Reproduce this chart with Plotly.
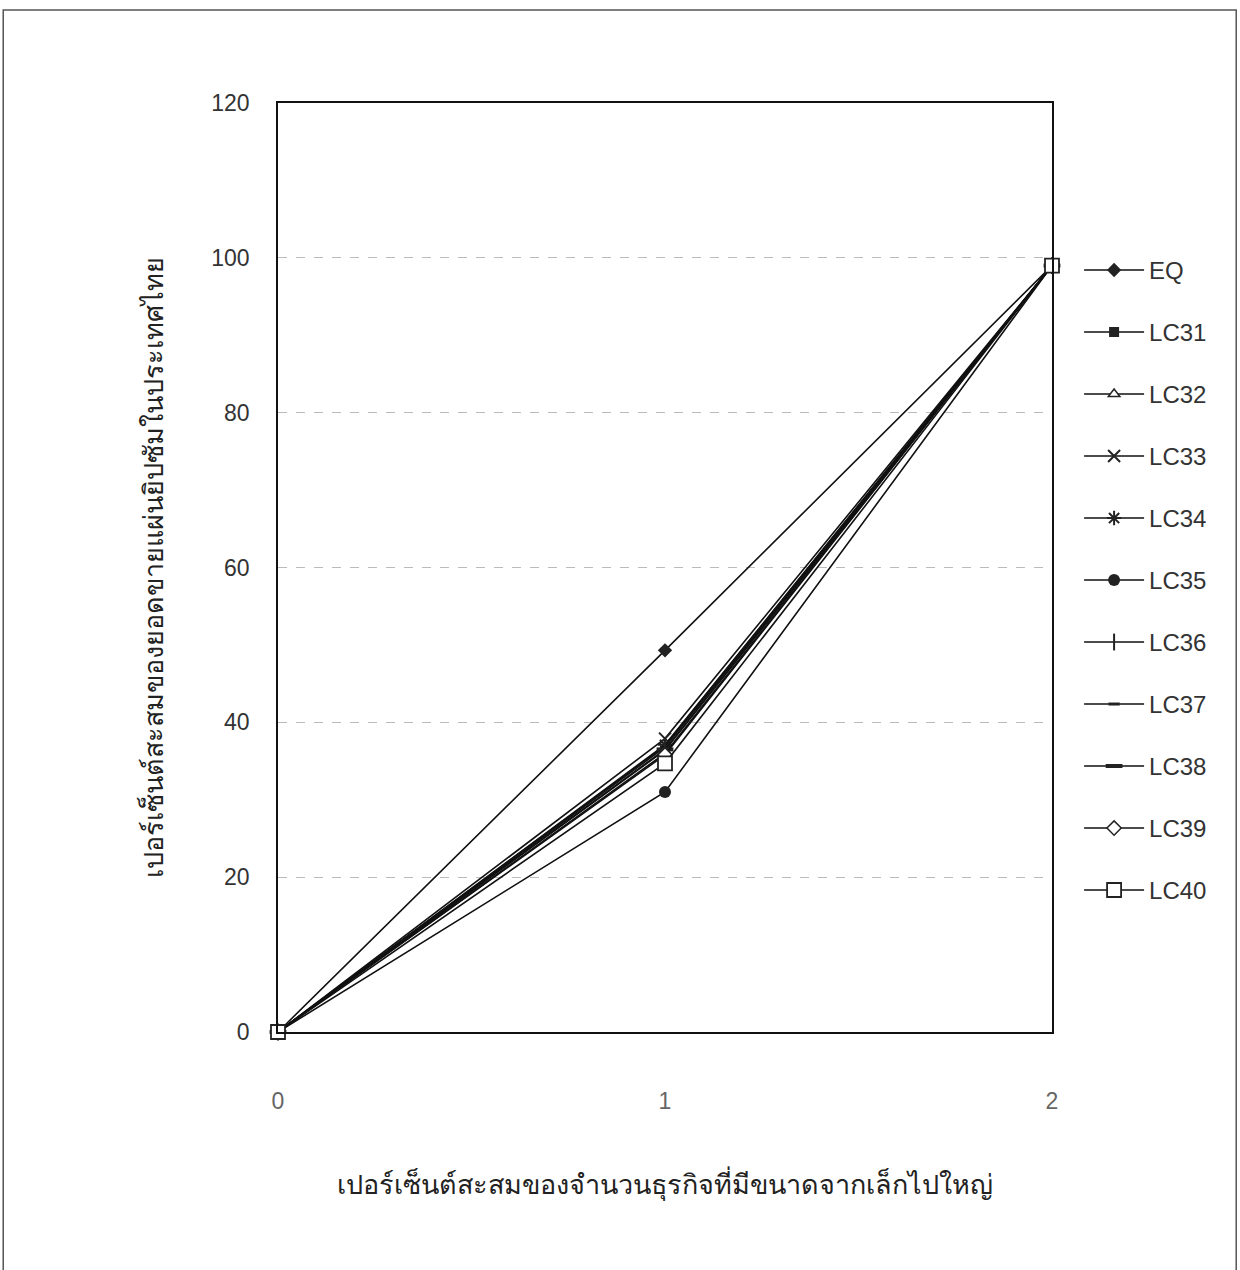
import plotly.graph_objects as go

x_vals = [0, 1, 2]
series_names = ["EQ", "LC31", "LC32", "LC33", "LC34", "LC35", "LC36", "LC37", "LC38", "LC39", "LC40"]
series_values = {
    "EQ":   [0, 49.3, 99],
    "LC31": [0, 36.4, 99],
    "LC32": [0, 36.8, 99],
    "LC33": [0, 37.9, 99],
    "LC34": [0, 37.1, 99],
    "LC35": [0, 31.0, 99],
    "LC36": [0, 37.0, 99],
    "LC37": [0, 36.0, 99],
    "LC38": [0, 36.5, 99],
    "LC39": [0, 35.8, 99],
    "LC40": [0, 34.7, 99],
}
x_tick_labels = ["0", "1", "2"]
y_tick_values = [0, 20, 40, 60, 80, 100, 120]

marker_styles = {
    "EQ":   dict(symbol="diamond", size=11, color="#222"),
    "LC31": dict(symbol="square", size=10, color="#222"),
    "LC32": dict(symbol="triangle-up", size=10, color="white", line=dict(width=1.5, color="#222")),
    "LC33": dict(symbol="x-thin-open", size=12, color="#222", line=dict(width=2, color="#222")),
    "LC34": dict(symbol="asterisk-open", size=12, color="#222", line=dict(width=2, color="#222")),
    "LC35": dict(symbol="circle", size=12, color="#222"),
    "LC36": dict(symbol="line-ns-open", size=12, color="#222", line=dict(width=2, color="#222")),
    "LC37": dict(symbol="line-ew-open", size=8, color="#222", line=dict(width=3, color="#222")),
    "LC38": dict(symbol="line-ew-open", size=12, color="#222", line=dict(width=4, color="#222")),
    "LC39": dict(symbol="diamond", size=11, color="white", line=dict(width=1.5, color="#222")),
    "LC40": dict(symbol="square", size=14, color="white", line=dict(width=1.8, color="#222")),
}

fig = go.Figure()
for name in series_names:
    fig.add_trace(go.Scatter(
        x=x_vals, y=series_values[name], name=name, mode="lines+markers",
        line=dict(color="#111", width=1.6),
        marker=marker_styles[name],
        legendgroup=name,
        cliponaxis=False,
    ))

fig.update_layout(
    width=1240, height=1270,
    paper_bgcolor="white", plot_bgcolor="white",
    margin=dict(l=278, r=188, t=103, b=238),
    font=dict(family="Liberation Sans, Noto Sans, sans-serif", size=22, color="#333"),
    legend=dict(x=1.035, y=0.844, xanchor="left", yanchor="top",
                font=dict(size=24, color="#333"), tracegroupgap=27.8,
                itemwidth=60, bgcolor="rgba(0,0,0,0)"),
    xaxis=dict(range=[0, 2], tickvals=x_vals, ticktext=x_tick_labels,
               showgrid=False, zeroline=False, showline=True, linecolor="#111",
               linewidth=1.5, mirror=True, ticks="", ticklabelstandoff=48,
               tickfont=dict(size=23, color="#666"),
               title=dict(text="เปอร์เซ็นต์สะสมของจำนวนธุรกิจที่มีขนาดจากเล็กไปใหญ่",
                          font=dict(size=27, color="#222"), standoff=62)),
    yaxis=dict(range=[0, 120], tickvals=y_tick_values,
               showgrid=True, gridcolor="#bbb", griddash="dash", gridwidth=1,
               zeroline=False, showline=True, linecolor="#111",
               linewidth=1.5, mirror=True, ticks="", ticklabelstandoff=22,
               tickfont=dict(size=23, color="#333"),
               title=dict(text="เปอร์เซ็นต์สะสมของยอดขายแผ่นยิปซัมในประเทศไทย",
                          font=dict(size=27, color="#222"), standoff=40)),
    shapes=[dict(type="rect", xref="paper", yref="paper",
                 x0=-0.355, x1=1.238, y0=-0.35, y1=1.1,
                 line=dict(color="#555", width=1.5))],
)

fig.write_html("out.html")
